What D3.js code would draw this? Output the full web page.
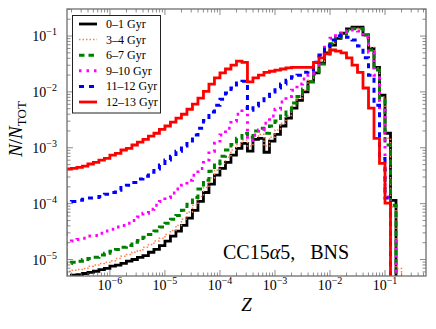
<!DOCTYPE html>
<html>
<head>
<meta charset="utf-8">
<script src="https://cdn.jsdelivr.net/npm/d3@7"></script>
<style>
  html, body { margin: 0; padding: 0; background: #fff; }
  svg text { font-family: "Liberation Serif", "DejaVu Serif", serif; fill: #000; }
</style>
</head>
<body>
<svg id="chart" width="436" height="329"></svg>
<script>
// Histogram bins in log10 Z: first left edge and width (dex)
const BIN_START = -6.8;
const BIN_WIDTH = 0.1;

const AGE_LABELS = ["0\u20131 Gyr", "3\u20134 Gyr", "6\u20137 Gyr", "9\u201310 Gyr", "11\u201312 Gyr", "12\u201313 Gyr"];

// log10(N/N_TOT) per bin
const LOG_N_0_1 = [
  -5.32, -5.28, -5.27, -5.25, -5.23, -5.21, -5.18, -5.16, -5.12, -5.10,
  -5.07, -5.03, -5.00, -4.96, -4.93, -4.87, -4.82, -4.75, -4.67, -4.58,
  -4.49, -4.39, -4.26, -4.12, -3.96, -3.80, -3.65, -3.49, -3.37, -3.26,
  -3.13, -3.01, -2.92, -3.06, -2.85, -2.83, -3.08, -2.88, -2.76, -2.61,
  -2.47, -2.29, -2.15, -2.00, -1.82, -1.66, -1.48, -1.30, -1.16, -1.04,
  -0.95, -0.87, -0.84, -0.84, -0.98, -1.22, -1.56, -2.06, -2.74, -3.94
];
const LOG_N_3_4 = [
  -5.21, -5.19, -5.18, -5.16, -5.12, -5.10, -5.07, -5.05, -5.02, -4.98,
  -4.94, -4.91, -4.87, -4.84, -4.78, -4.73, -4.67, -4.62, -4.55, -4.48,
  -4.39, -4.28, -4.15, -4.03, -3.87, -3.71, -3.54, -3.40, -3.28, -3.17,
  -3.04, -2.94, -2.86, -2.97, -2.80, -2.76, -2.97, -2.81, -2.68, -2.56,
  -2.42, -2.25, -2.11, -1.97, -1.79, -1.63, -1.45, -1.27, -1.13, -1.02,
  -0.95, -0.89, -0.86, -0.86, -0.96, -1.20, -1.57, -2.09, -2.83, -4.06,
  -5.16
];
const LOG_N_6_7 = [
  -5.07, -5.05, -5.03, -5.00, -4.98, -4.96, -4.92, -4.89, -4.85, -4.82,
  -4.78, -4.75, -4.69, -4.66, -4.60, -4.55, -4.49, -4.42, -4.35, -4.28,
  -4.21, -4.12, -4.01, -3.89, -3.74, -3.58, -3.42, -3.28, -3.15, -3.04,
  -2.94, -2.83, -2.74, -2.81, -2.70, -2.65, -2.74, -2.61, -2.52, -2.43,
  -2.33, -2.20, -2.08, -1.95, -1.82, -1.68, -1.50, -1.32, -1.14, -1.02,
  -0.95, -0.91, -0.87, -0.87, -0.98, -1.25, -1.61, -2.15, -2.95, -4.03
];
const LOG_N_9_10 = [
  -4.69, -4.67, -4.64, -4.62, -4.58, -4.57, -4.53, -4.49, -4.46, -4.42,
  -4.39, -4.35, -4.30, -4.24, -4.17, -4.10, -4.03, -3.96, -3.89, -3.81,
  -3.74, -3.67, -3.58, -3.49, -3.37, -3.22, -3.06, -2.92, -2.77, -2.65,
  -2.52, -2.40, -2.29, -2.86, -2.77, -2.68, -2.56, -2.43, -2.31, -2.18,
  -2.08, -1.97, -1.86, -1.77, -1.70, -1.50, -1.32, -1.16, -1.04, -0.96,
  -0.93, -0.89, -0.89, -0.91, -1.02, -1.29, -1.70, -2.33, -3.88, -4.67
];
const LOG_N_11_12 = [
  -3.97, -3.96, -3.94, -3.92, -3.90, -3.89, -3.87, -3.83, -3.80, -3.76,
  -3.71, -3.67, -3.62, -3.56, -3.51, -3.44, -3.38, -3.31, -3.22, -3.15,
  -3.06, -2.97, -2.88, -2.77, -2.65, -2.51, -2.36, -2.24, -2.13, -2.02,
  -1.93, -1.84, -1.81, -2.33, -2.25, -2.16, -2.08, -2.00, -1.93, -1.86,
  -1.79, -1.73, -1.70, -1.65, -1.61, -1.47, -1.34, -1.18, -1.07, -1.00,
  -0.98, -1.02, -1.07, -1.18, -1.39, -1.70, -2.24, -3.19, -3.90
];
const LOG_N_12_13 = [
  -3.38, -3.37, -3.35, -3.33, -3.29, -3.26, -3.22, -3.19, -3.13, -3.10,
  -3.04, -3.01, -2.95, -2.90, -2.85, -2.79, -2.74, -2.67, -2.61, -2.54,
  -2.47, -2.40, -2.31, -2.22, -2.11, -1.99, -1.86, -1.75, -1.66, -1.59,
  -1.52, -1.45, -1.47, -1.82, -1.75, -1.70, -1.65, -1.63, -1.61, -1.59,
  -1.57, -1.56, -1.56, -1.56, -1.56, -1.47, -1.39, -1.32, -1.25, -1.27,
  -1.30, -1.39, -1.52, -1.65, -1.93, -2.29, -2.83, -3.28, -3.99
];

const SERIES = [LOG_N_0_1, LOG_N_3_4, LOG_N_6_7, LOG_N_9_10, LOG_N_11_12, LOG_N_12_13];

const X_TICK_EXPONENTS = [-6, -5, -4, -3, -2, -1];
const Y_TICK_EXPONENTS = [-5, -4, -3, -2, -1];

const STYLES = [
  { color: "#000000", width: 2.8, dash: null },
  { color: "#ff7f50", width: 1.5, dash: "1.5,2" },
  { color: "#008000", width: 3, dash: "5.5,4" },
  { color: "#ff00ff", width: 3, dash: "2.5,5" },
  { color: "#0000ff", width: 3, dash: "5,5" },
  { color: "#ff0000", width: 2.8, dash: null }
];

const PLOT = { left: 67, right: 426, top: 9, bottom: 276 };
const SPINE = "#6f6f6f";

const svg = d3.select("#chart");

const x = d3.scaleLog()
  .domain([Math.pow(10, -6.78), Math.pow(10, -0.255)])
  .range([PLOT.left, PLOT.right]);
const y = d3.scaleLog()
  .domain([Math.pow(10, -5.295), Math.pow(10, -0.516)])
  .range([PLOT.bottom, PLOT.top]);

svg.append("clipPath").attr("id", "plot-clip")
  .append("rect")
  .attr("x", PLOT.left).attr("y", PLOT.top)
  .attr("width", PLOT.right - PLOT.left).attr("height", PLOT.bottom - PLOT.top);

// step outline of one histogram, dropping to "zero" past the last bin
function stepPath(values) {
  const floor = y.range()[0] + 20;
  const edge = i => x(Math.pow(10, BIN_START + i * BIN_WIDTH));
  const pts = [[edge(0), floor]];
  values.forEach((v, i) => {
    const yy = y(Math.pow(10, v));
    pts.push([edge(i), yy], [edge(i + 1), yy]);
  });
  pts.push([edge(values.length), floor]);
  return d3.line()(pts);
}

const lines = svg.append("g").attr("clip-path", "url(#plot-clip)");
SERIES.forEach((values, i) => {
  const s = STYLES[i];
  lines.append("path")
    .attr("d", stepPath(values))
    .attr("fill", "none")
    .attr("stroke", s.color)
    .attr("stroke-width", s.width)
    .attr("stroke-dasharray", s.dash)
    .attr("stroke-linejoin", "miter");
});

// ticks, inward on all four sides
const ticks = svg.append("g").attr("stroke", SPINE).attr("stroke-width", 0.8);
function logTicks(scale) {
  const out = [];
  const [lo, hi] = scale.domain();
  for (let e = Math.floor(Math.log10(lo)); e <= Math.ceil(Math.log10(hi)); e++) {
    for (let m = 1; m < 10; m++) {
      const v = m * Math.pow(10, e);
      if (v >= lo && v <= hi) out.push({ v, major: m === 1 });
    }
  }
  return out;
}
logTicks(x).forEach(t => {
  const len = t.major ? 6 : 3.5;
  const px = x(t.v);
  ticks.append("line").attr("x1", px).attr("x2", px).attr("y1", PLOT.bottom).attr("y2", PLOT.bottom - len);
  ticks.append("line").attr("x1", px).attr("x2", px).attr("y1", PLOT.top).attr("y2", PLOT.top + len);
});
logTicks(y).forEach(t => {
  const len = t.major ? 6 : 3.5;
  const py = y(t.v);
  ticks.append("line").attr("y1", py).attr("y2", py).attr("x1", PLOT.left).attr("x2", PLOT.left + len);
  ticks.append("line").attr("y1", py).attr("y2", py).attr("x1", PLOT.right).attr("x2", PLOT.right - len);
});

svg.append("rect")
  .attr("x", PLOT.left).attr("y", PLOT.top)
  .attr("width", PLOT.right - PLOT.left).attr("height", PLOT.bottom - PLOT.top)
  .attr("fill", "none").attr("stroke", SPINE).attr("stroke-width", 1.3);

function powerLabel(sel, exp) {
  sel.append("tspan").text("10");
  sel.append("tspan").attr("dy", -6).attr("font-size", 10).text("\u2212" + Math.abs(exp));
}

X_TICK_EXPONENTS.forEach(e => {
  svg.append("text")
    .attr("x", x(Math.pow(10, e)))
    .attr("y", 290)
    .attr("text-anchor", "middle")
    .attr("font-size", 14)
    .call(powerLabel, e);
});
Y_TICK_EXPONENTS.forEach(e => {
  svg.append("text")
    .attr("x", 57)
    .attr("y", y(Math.pow(10, e)) + 5)
    .attr("text-anchor", "end")
    .attr("font-size", 14)
    .call(powerLabel, e);
});

// axis titles
svg.append("text")
  .attr("x", (PLOT.left + PLOT.right) / 2)
  .attr("y", 311)
  .attr("text-anchor", "middle")
  .attr("font-size", 19)
  .attr("font-style", "italic")
  .text("Z");

const yl = svg.append("text")
  .attr("transform", "translate(22,129) rotate(-90)")
  .attr("text-anchor", "middle")
  .attr("font-size", 19);
yl.append("tspan").attr("font-style", "italic").text("N");
yl.append("tspan").text("/");
yl.append("tspan").attr("font-style", "italic").text("N");
yl.append("tspan").attr("dy", 4).attr("font-size", 13).text("TOT");

const note = svg.append("text")
  .attr("x", 223)
  .attr("y", 259)
  .attr("font-size", 20)
  .attr("xml:space", "preserve");
note.append("tspan").text("CC15");
note.append("tspan").attr("font-style", "italic").text("\u03b1");
note.append("tspan").text("5,   BNS");

// legend
const legend = svg.append("g");
legend.append("rect")
  .attr("x", 72.5).attr("y", 15.5).attr("width", 88).attr("height", 97.5)
  .attr("fill", "#fff").attr("stroke", "#222").attr("stroke-width", 1);
AGE_LABELS.forEach((label, i) => {
  const s = STYLES[i];
  const ly = 24 + i * 15.6;
  legend.append("line")
    .attr("x1", 79).attr("x2", 97).attr("y1", ly).attr("y2", ly)
    .attr("stroke", s.color).attr("stroke-width", s.width)
    .attr("stroke-dasharray", s.dash);
  legend.append("text")
    .attr("x", 106).attr("y", ly + 4)
    .attr("font-size", 12)
    .text(label);
});
</script>
</body>
</html>
